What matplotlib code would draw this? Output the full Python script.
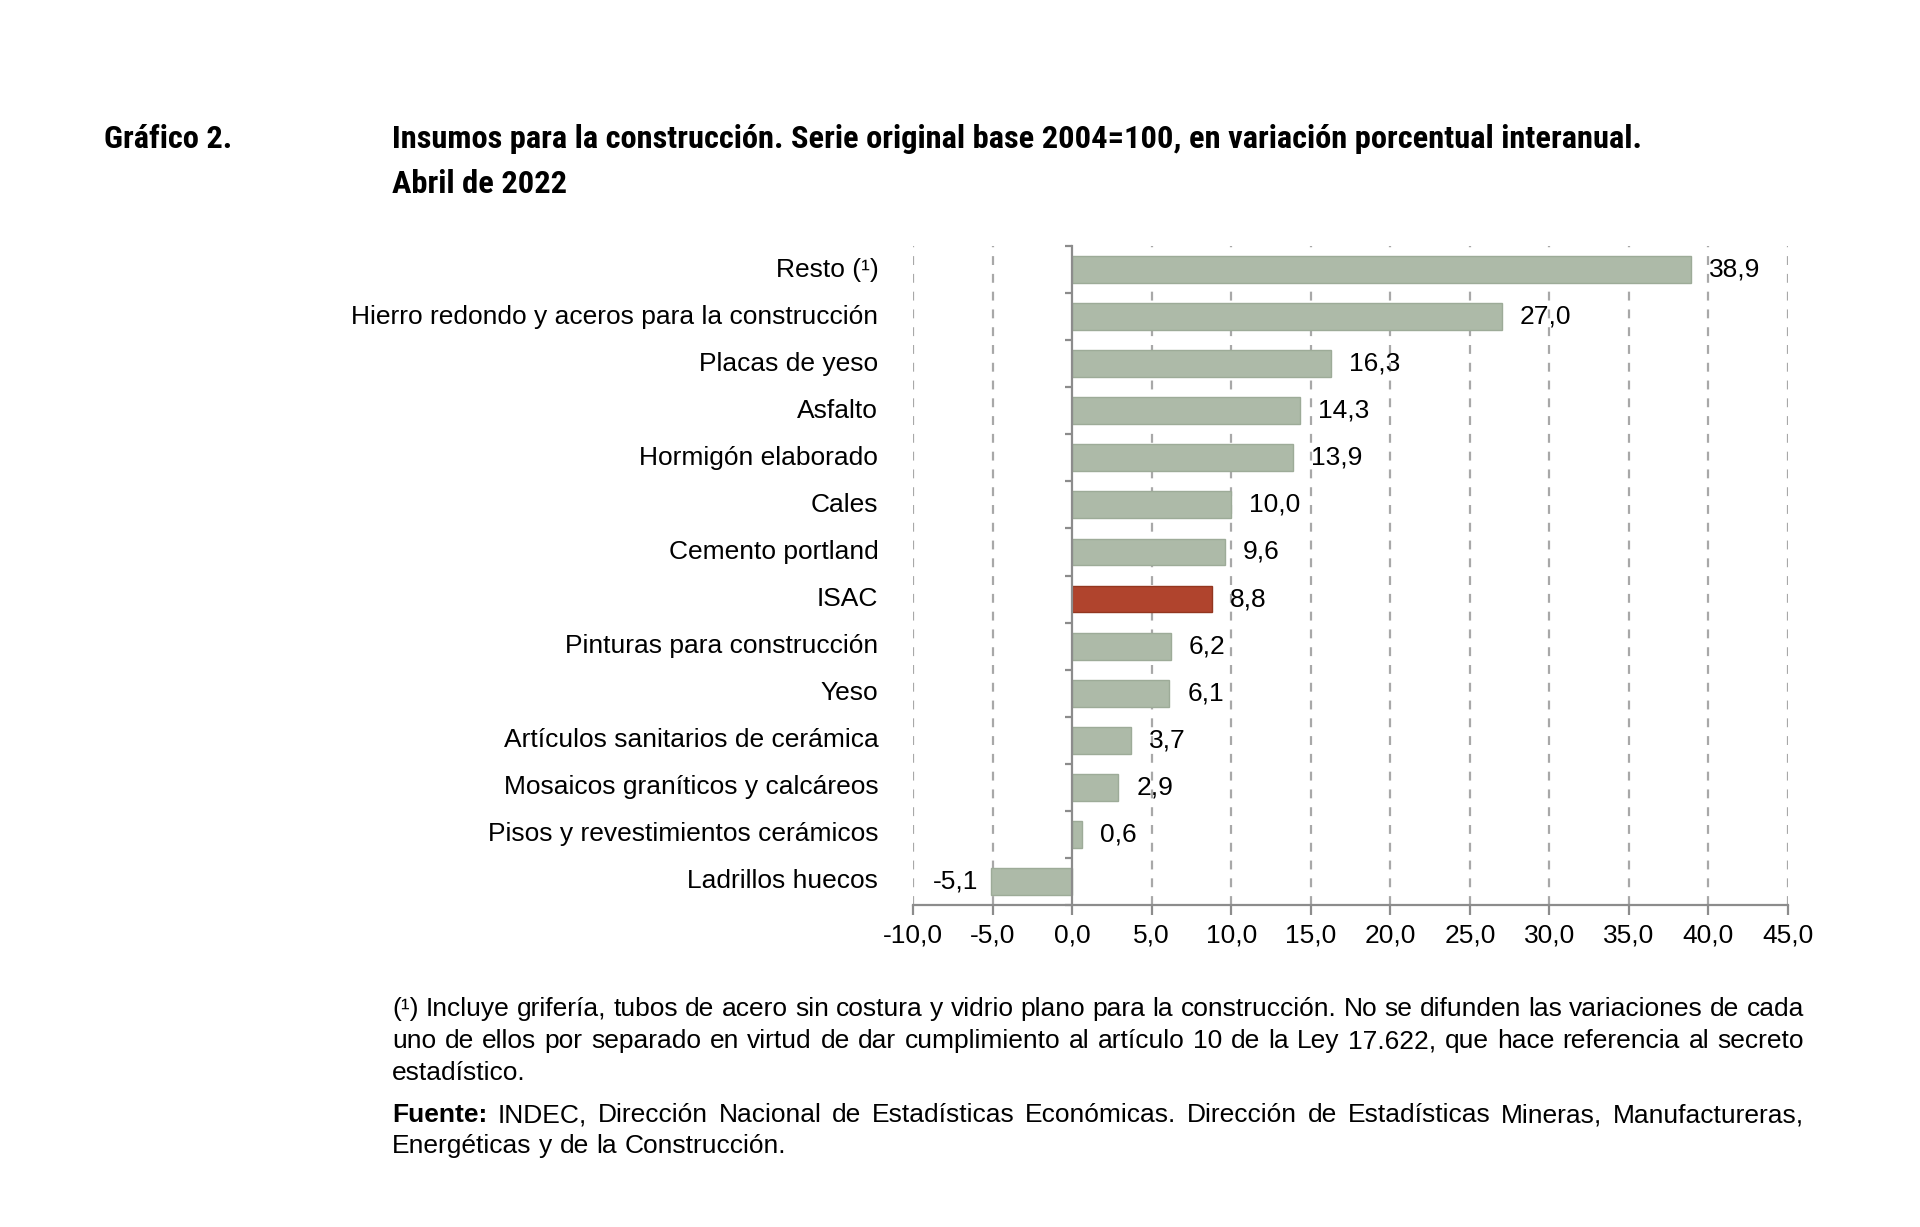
import matplotlib
matplotlib.use('Agg')
import matplotlib.pyplot as plt
from matplotlib import font_manager

# -------------------------- datos --------------------------
categorias = [
    'Resto (¹)',
    'Hierro redondo y aceros para la construcción',
    'Placas de yeso',
    'Asfalto',
    'Hormigón elaborado',
    'Cales',
    'Cemento portland',
    'ISAC',
    'Pinturas para construcción',
    'Yeso',
    'Artículos sanitarios de cerámica',
    'Mosaicos graníticos y calcáreos',
    'Pisos y revestimientos cerámicos',
    'Ladrillos huecos',
]
valores = [38.9, 27.0, 16.3, 14.3, 13.9, 10.0, 9.6, 8.8, 6.2, 6.1, 3.7, 2.9, 0.6, -5.1]
xticks = [-10, -5, 0, 5, 10, 15, 20, 25, 30, 35, 40, 45]

titulo_num = 'Gráfico 2.'
titulo_1 = 'Insumos para la construcción. Serie original base 2004=100, en variación porcentual interanual.'
titulo_2 = 'Abril de 2022'
nota_lineas = [
    '(¹) Incluye grifería, tubos de acero sin costura y vidrio plano para la construcción. No se difunden las variaciones de cada',
    'uno de ellos por separado en virtud de dar cumplimiento al artículo 10 de la Ley 17.622, que hace referencia al secreto',
    'estadístico.',
]
fuente_lineas = [
    'Fuente: INDEC, Dirección Nacional de Estadísticas Económicas. Dirección de Estadísticas Mineras, Manufactureras,',
    'Energéticas y de la Construcción.',
]

COLOR_BARRA = '#adbaa8'
COLOR_BARRA_BORDE = '#9dab98'
COLOR_ISAC = '#b0442d'
COLOR_ISAC_BORDE = '#93361f'
COLOR_EJE = '#8c8c8c'
COLOR_GRILLA = '#a8a8a8'
FUENTE = ['Liberation Sans', 'DejaVu Sans']
TAM = 19

plt.rcParams['font.family'] = FUENTE

# fuente angosta para el título, si hay alguna instalada
instaladas = {f.name for f in font_manager.fontManager.ttflist}
fuente_titulo, tam_titulo = ['Liberation Sans', 'DejaVu Sans'], 20.4
for cand in ['Liberation Sans Narrow', 'Roboto Condensed', 'Open Sans Condensed',
             'DejaVu Sans Condensed', 'Noto Sans Condensed']:
    if cand in instaladas:
        fuente_titulo, tam_titulo = [cand, 'DejaVu Sans'], 23.4
        break


def fmt(v):
    return f'{v:.1f}'.replace('.', ',')


def linea_justificada(fig, renderer, palabras, x0, x1, y, size, justificar=True):
    """palabras: lista de (texto, peso). x0, x1 en pixeles; y en fraccion."""
    W = fig.bbox.width
    objs = []
    anchos = []
    for txt, peso in palabras:
        t = fig.text(0, y, txt, fontsize=size, weight=peso, va='center', ha='left')
        anchos.append(t.get_window_extent(renderer).width)
        objs.append(t)
    espacio = fig.text(0, y, 'a a', fontsize=size)
    e1 = espacio.get_window_extent(renderer).width
    espacio.set_text('aa')
    e2 = espacio.get_window_extent(renderer).width
    espacio.remove()
    gap = e1 - e2
    if justificar and len(objs) > 1:
        gap = (x1 - x0 - sum(anchos)) / (len(objs) - 1)
    x = x0
    for t, w in zip(objs, anchos):
        t.set_x(x / W)
        x += w + gap


# -------------------------- figura --------------------------
fig = plt.figure(figsize=(19.2, 12.27), dpi=100)
ax = fig.add_axes([913 / 1920, 1 - 905 / 1227, (1788 - 913) / 1920, (905 - 246) / 1227])

y = list(range(len(categorias)))
colores = [COLOR_ISAC if c == 'ISAC' else COLOR_BARRA for c in categorias]
bordes = [COLOR_ISAC_BORDE if c == 'ISAC' else COLOR_BARRA_BORDE for c in categorias]
ax.barh(y, valores, height=0.57, color=colores, edgecolor=bordes, linewidth=1, zorder=3)

ax.set_xlim(-10, 45)
ax.set_ylim(len(categorias) - 0.5, -0.5)

# grilla vertical punteada (sin la del 0)
for xt in xticks:
    if xt != 0:
        ax.axvline(xt, color=COLOR_GRILLA, lw=1.6, ls=(0, (4, 4)), zorder=1)

# eje en 0 con marcas entre categorías
ax.spines['left'].set_position(('data', 0))
ax.spines['left'].set_color(COLOR_EJE)
ax.spines['left'].set_linewidth(1.6)
ax.spines['left'].set_zorder(4)
ax.set_yticks(y)
ax.set_yticklabels([])
ax.tick_params(axis='y', which='major', length=0)
ax.set_yticks([i - 0.5 for i in range(len(categorias) + 1)], minor=True)
ax.tick_params(axis='y', which='minor', length=5, width=1.6, color=COLOR_EJE, direction='out')

ax.spines['bottom'].set_color(COLOR_EJE)
ax.spines['bottom'].set_linewidth(1.6)
ax.spines['top'].set_visible(False)
ax.spines['right'].set_visible(False)
ax.set_xticks(xticks)
ax.set_xticklabels([fmt(v) for v in xticks], fontsize=TAM)
ax.tick_params(axis='x', length=7, width=1.6, color=COLOR_EJE, pad=6)

# etiquetas de categorías
for i, c in enumerate(categorias):
    ax.annotate(c, xy=(0, i), xycoords=('axes fraction', 'data'),
                xytext=(-25, 0), textcoords='offset points',
                ha='right', va='center', fontsize=TAM)

# valores
for i, v in enumerate(valores):
    if v >= 0:
        ax.annotate(fmt(v), xy=(v, i), xytext=(13, 0), textcoords='offset points',
                    ha='left', va='center', fontsize=TAM, zorder=5)
    else:
        ax.annotate(fmt(v), xy=(v, i), xytext=(-9, 0), textcoords='offset points',
                    ha='right', va='center', fontsize=TAM, zorder=5)

# títulos
fig.text(104 / 1920, 1 - 139 / 1227, titulo_num, fontsize=tam_titulo, weight='bold',
         family=fuente_titulo, va='center')
fig.text(392 / 1920, 1 - 139 / 1227, titulo_1, fontsize=tam_titulo, weight='bold',
         family=fuente_titulo, va='center')
fig.text(392 / 1920, 1 - 184 / 1227, titulo_2, fontsize=tam_titulo, weight='bold',
         family=fuente_titulo, va='center')

# notas al pie
renderer = fig.canvas.get_renderer()
x0, x1 = 392, 1804
for k, (linea, ypx) in enumerate(zip(nota_lineas, [1009, 1041, 1073])):
    palabras = [(w, 'normal') for w in linea.split(' ')]
    linea_justificada(fig, renderer, palabras, x0, x1, 1 - ypx / 1227, TAM,
                      justificar=k < len(nota_lineas) - 1)
for k, (linea, ypx) in enumerate(zip(fuente_lineas, [1115, 1146])):
    palabras = [(w, 'bold' if w == 'Fuente:' else 'normal') for w in linea.split(' ')]
    linea_justificada(fig, renderer, palabras, x0, x1, 1 - ypx / 1227, TAM,
                      justificar=k < len(fuente_lineas) - 1)

fig.savefig('out.png', dpi=100, facecolor='white')
